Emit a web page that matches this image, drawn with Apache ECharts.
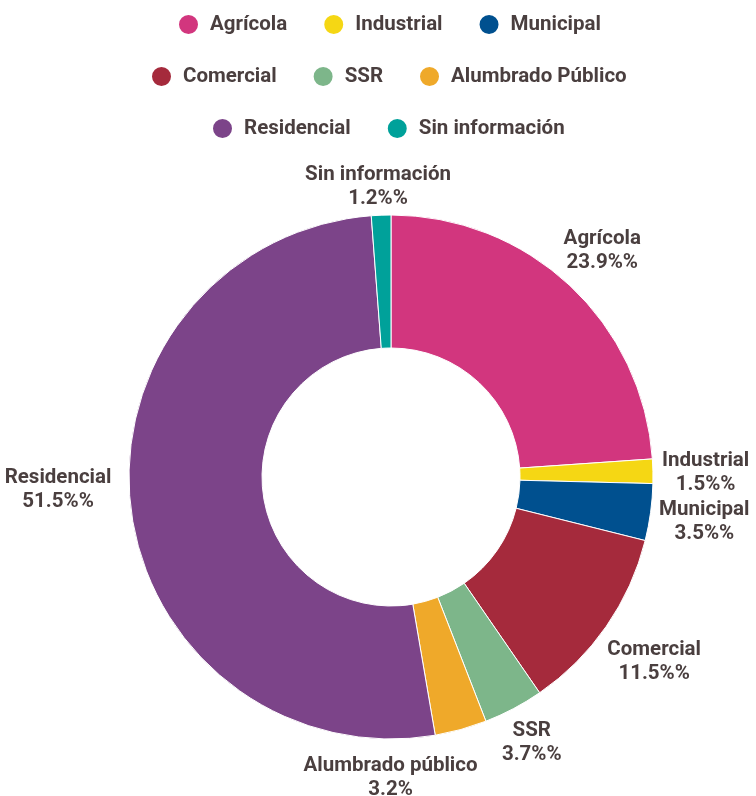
<!DOCTYPE html>
<html>
<head>
<meta charset="utf-8">
<script src="https://cdn.jsdelivr.net/npm/echarts@6/dist/echarts.min.js"></script>
<style>
  html, body { margin: 0; padding: 0; background: #fff; }
  #chart { width: 756px; height: 796px; }
</style>
</head>
<body>
<div id="chart"></div>
<script>
  // data
  const categories = ['Agrícola', 'Industrial', 'Municipal', 'Comercial', 'SSR', 'Alumbrado Público', 'Residencial', 'Sin información'];
  const labelNames = ['Agrícola', 'Industrial', 'Municipal', 'Comercial', 'SSR', 'Alumbrado público', 'Residencial', 'Sin información'];
  const shares = [23.9, 1.5, 3.5, 11.5, 3.7, 3.2, 51.5, 1.2];
  const suffixes = ['%%', '%%', '%%', '%%', '%%', '%', '%%', '%%'];
  const colors = ['#D2367E', '#F5D714', '#00508F', '#A52A3C', '#7DB68A', '#EFA92A', '#7C4489', '#00A19A'];

  const cx = 391, cy = 477;
  const textColor = '#4a3f3f';
  const font = 'bold 20.5px Roboto';
  // small hand nudges for labels that were moved in the original
  const nudge = { 0: [0, -15], 1: [0, -3], 3: [2, 12], 5: [-96, 12], 6: [-11, -28] };

  const total = shares.reduce((a, b) => a + b, 0);
  const midAngles = [];
  let acc = 0;
  shares.forEach(v => {
    midAngles.push((acc + v / 2) / total * Math.PI * 2);
    acc += v;
  });

  // legend rows are centred a bit right of the page middle
  const ctx = document.createElement('canvas').getContext('2d');
  ctx.font = font;
  const iconSize = 21, textGap = 6, itemGap = 35, legendMid = 387;
  const rowLeft = names => {
    let w = 0;
    names.forEach(n => { w += iconSize + 5 + textGap + ctx.measureText(n).width; });
    w += itemGap * (names.length - 1);
    return Math.round(legendMid - w / 2);
  };

  const chart = echarts.init(document.getElementById('chart'));

  const legendRow = (names, top) => ({
    data: names,
    top: top,
    left: rowLeft(names),
    padding: 0,
    icon: 'circle',
    itemWidth: iconSize,
    itemHeight: iconSize,
    itemGap: itemGap,
    selectedMode: false,
    textStyle: {
      color: textColor,
      fontFamily: 'Roboto',
      fontWeight: 'bold',
      fontSize: 20.5,
      padding: [0, 0, 0, textGap]
    }
  });

  chart.setOption({
    color: colors,
    textStyle: { fontFamily: 'Roboto' },
    legend: [
      legendRow(categories.slice(0, 3), 13),
      legendRow(categories.slice(3, 6), 65),
      legendRow(categories.slice(6), 117)
    ],
    series: [{
      type: 'pie',
      center: [cx, cy],
      radius: [129, 262],
      startAngle: 90,
      clockwise: true,
      avoidLabelOverlap: false,
      animation: false,
      itemStyle: { borderColor: '#fff', borderWidth: 1 },
      label: {
        show: true,
        position: 'outside',
        formatter: p => labelNames[p.dataIndex] + '\n' + shares[p.dataIndex].toFixed(1) + suffixes[p.dataIndex],
        color: textColor,
        fontFamily: 'Roboto',
        fontWeight: 'bold',
        fontSize: 20.5,
        lineHeight: 24,
        align: 'center'
      },
      labelLine: { show: false },
      labelLayout: function (params) {
        const i = params.dataIndex;
        const a = midAngles[i];
        const dx = Math.sin(a), dy = -Math.cos(a);
        const w = params.labelRect.width, h = params.labelRect.height;
        const r0 = 271;
        const n = nudge[i] || [0, 0];
        return {
          x: cx + dx * r0 + dx * w / 2 + n[0],
          y: cy + 5 + dy * r0 + dy * h / 2 + n[1],
          align: 'center',
          verticalAlign: 'middle'
        };
      },
      data: categories.map((c, i) => ({ name: c, value: shares[i] }))
    }]
  });
</script>
</body>
</html>
